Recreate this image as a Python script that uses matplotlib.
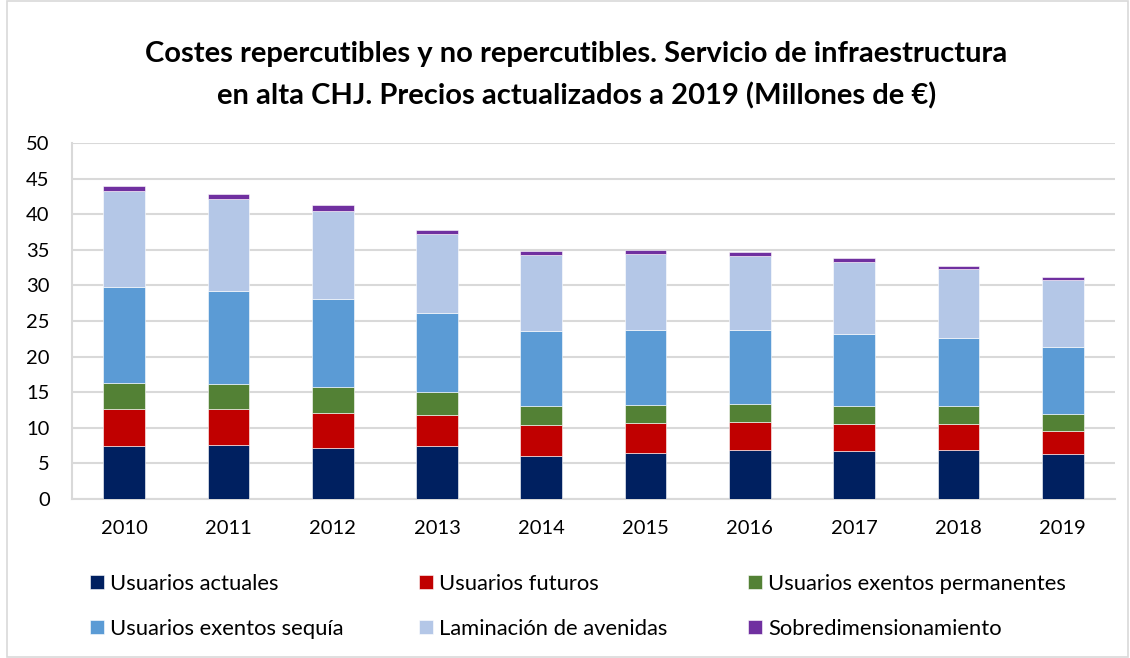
import matplotlib
matplotlib.use("Agg")
import matplotlib.pyplot as plt
import numpy as np
from matplotlib.patches import Rectangle

plt.rcParams['font.family'] = ['Lato', 'DejaVu Sans']

years = ['2010', '2011', '2012', '2013', '2014', '2015', '2016', '2017', '2018', '2019']

# Millones de euros
usuarios_actuales = [7.45, 7.6, 7.15, 7.5, 6.1, 6.45, 6.95, 6.75, 6.9, 6.3]
usuarios_futuros = [5.25, 5.1, 4.9, 4.3, 4.3, 4.2, 3.85, 3.8, 3.65, 3.25]
exentos_permanentes = [3.65, 3.45, 3.7, 3.25, 2.6, 2.55, 2.55, 2.45, 2.45, 2.45]
exentos_sequia = [13.4, 13.0, 12.4, 11.05, 10.6, 10.5, 10.45, 10.15, 9.65, 9.4]
laminacion_avenidas = [13.5, 13.0, 12.35, 11.1, 10.65, 10.65, 10.4, 10.2, 9.6, 9.4]
sobredimensionamiento = [0.75, 0.75, 0.75, 0.65, 0.55, 0.6, 0.55, 0.55, 0.5, 0.45]

series = [
    ('Usuarios actuales', usuarios_actuales, '#002060'),
    ('Usuarios futuros', usuarios_futuros, '#C00000'),
    ('Usuarios exentos permanentes', exentos_permanentes, '#538135'),
    ('Usuarios exentos sequía', exentos_sequia, '#5B9BD5'),
    ('Laminación de avenidas', laminacion_avenidas, '#B4C7E7'),
    ('Sobredimensionamiento', sobredimensionamiento, '#7030A0'),
]

fig = plt.figure(figsize=(11.3, 6.58), dpi=100)
ax = fig.add_axes([0.0637, 0.2416, 0.923, 0.541])

x = np.arange(len(years))
bottom = np.zeros(len(years))
handles = []
for label, values, color in series:
    h = ax.bar(x, values, width=0.4, bottom=bottom, color=color, label=label,
               edgecolor='white', linewidth=0.4, zorder=3)
    handles.append(h)
    bottom += np.array(values)

ax.set_xlim(-0.5, len(years) - 0.5)
ax.set_ylim(0, 50)
ax.set_yticks(np.arange(0, 51, 5))
ax.set_xticks(x)
ax.set_xticklabels(years)
ax.tick_params(axis='both', length=0, labelsize=14.5, colors='black')
ax.tick_params(axis='x', pad=15)
ax.tick_params(axis='y', pad=16)
ax.yaxis.grid(True, color='#d9d9d9', linewidth=1.5, zorder=0)
for side in ['top', 'right']:
    ax.spines[side].set_visible(False)
for side in ['left', 'bottom']:
    ax.spines[side].set_color('#d9d9d9')
    ax.spines[side].set_linewidth(1.5)

fig.text(0.51, 0.886,
         'Costes repercutibles y no repercutibles. Servicio de infraestructura\n'
         'en alta CHJ. Precios actualizados a 2019 (Millones de €)',
         fontsize=21, fontweight='bold', ha='center', va='center',
         multialignment='center', linespacing=1.7)

# Leyenda en rejilla de 3 columnas por 2 filas, como en Excel
col_x = [0.0796, 0.371, 0.662]
row_y = [0.1125, 0.044]
for i, (h, (label, _, _)) in enumerate(zip(handles, series)):
    fig.legend([h], [label], loc='center left',
               bbox_to_anchor=(col_x[i % 3], row_y[i // 3]),
               frameon=False, fontsize=15.8, borderpad=0, borderaxespad=0,
               handlelength=0.62, handleheight=0.62, handletextpad=0.3)

fig.patches.append(Rectangle((0.006, 0.002), 0.992, 0.996, transform=fig.transFigure,
                             fill=False, edgecolor='#d9d9d9', linewidth=1.2))

fig.savefig('out.png', dpi=100)
